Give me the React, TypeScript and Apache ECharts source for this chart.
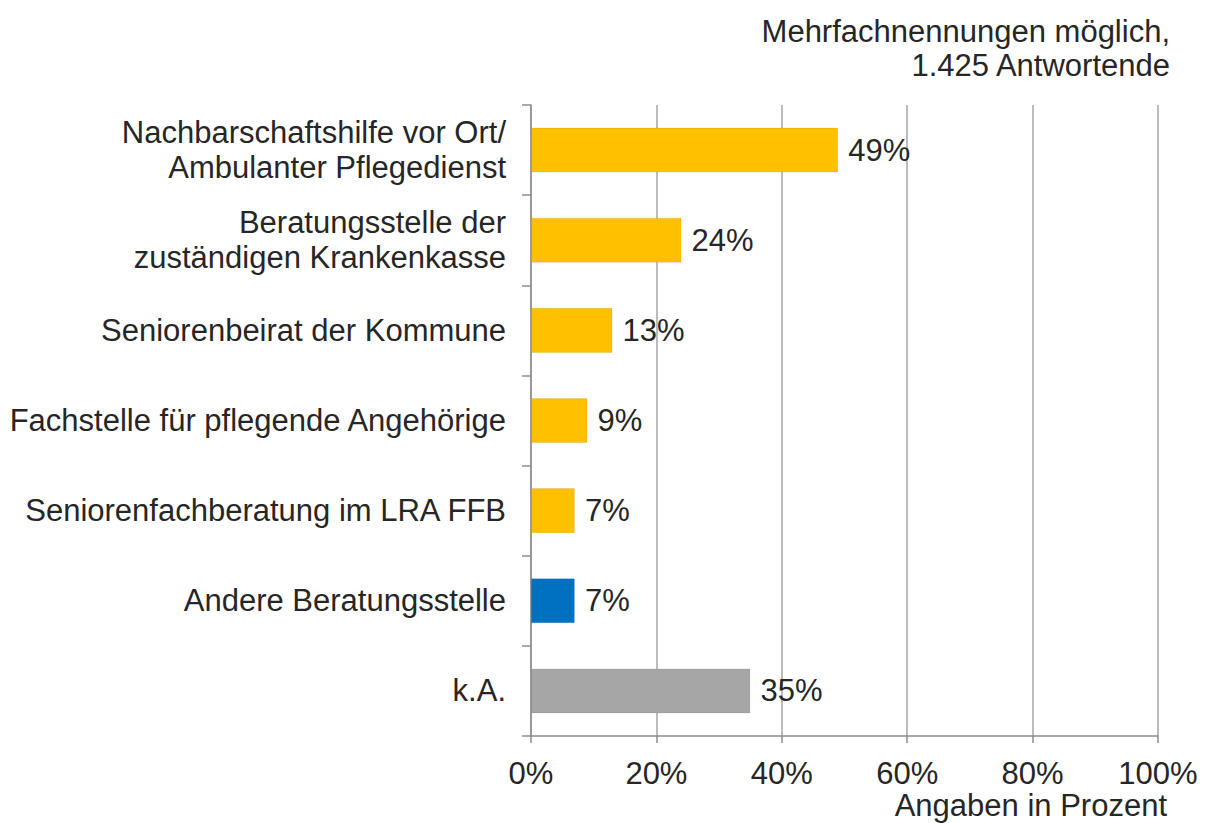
import React, { useEffect, useRef } from "react";
import * as echarts from "echarts";

const categories = [
  "Nachbarschaftshilfe vor Ort/\nAmbulanter Pflegedienst",
  "Beratungsstelle der\nzuständigen Krankenkasse",
  "Seniorenbeirat der Kommune",
  "Fachstelle für pflegende Angehörige",
  "Seniorenfachberatung im LRA FFB",
  "Andere Beratungsstelle",
  "k.A.",
];
const values = [49, 24, 13, 9, 7, 7, 35];
const barColors = ["#FFC000", "#FFC000", "#FFC000", "#FFC000", "#FFC000", "#0070C0", "#A6A6A6"];
const xTicks = [0, 20, 40, 60, 80, 100];
const noteLines = ["Mehrfachnennungen möglich,", "1.425 Antwortende"];
const axisTitle = "Angaben in Prozent";

const FONT = "'Liberation Sans', Arial, sans-serif";
const TXT = "#262626";
const FS = 31;

export default function App() {
  const ref = useRef<HTMLDivElement>(null);
  useEffect(() => {
    if (!ref.current) return;
    const chart = echarts.init(ref.current, null, { renderer: "svg" });
    chart.setOption({
      animation: false,
      backgroundColor: "#ffffff",
      textStyle: { fontFamily: FONT },
      grid: { left: 531, right: 48, top: 105, bottom: 87, containLabel: false },
      xAxis: {
        type: "value",
        min: xTicks[0],
        max: xTicks[xTicks.length - 1],
        interval: xTicks[1] - xTicks[0],
        axisLine: { show: true, lineStyle: { color: "#8c8c8c", width: 1.5 } },
        axisTick: { show: true, length: 7, lineStyle: { color: "#8c8c8c", width: 1.5 } },
        axisLabel: { formatter: "{value}%", fontSize: FS, color: TXT, margin: 22, fontFamily: FONT },
        splitLine: { show: true, lineStyle: { color: "#a6a6a6", width: 1.5 } },
      },
      yAxis: {
        type: "category",
        data: categories,
        inverse: true,
        axisLine: { show: true, lineStyle: { color: "#8c8c8c", width: 1.5 } },
        axisTick: { show: true, length: 9, lineStyle: { color: "#8c8c8c", width: 1.5 } },
        axisLabel: { fontSize: FS, color: TXT, margin: 25, lineHeight: 35, align: "right", fontFamily: FONT },
        splitLine: { show: false },
      },
      series: [
        {
          type: "bar",
          barWidth: "50%",
          data: values.map((v, i) => ({
            value: v,
            itemStyle: { color: barColors[i], borderColor: "rgba(0,0,0,0.08)", borderWidth: 1 },
          })),
          label: {
            show: true,
            position: "right",
            distance: 10,
            formatter: "{c}%",
            fontSize: FS,
            color: TXT,
            fontFamily: FONT,
          },
        },
      ],
      graphic: [
        {
          type: "text",
          right: 36,
          top: 14,
          style: {
            text: noteLines.join("\n"),
            font: `${FS}px ${FONT}`,
            fill: TXT,
            textAlign: "right",
            lineHeight: 34,
          },
        },
        {
          type: "text",
          right: 39,
          top: 790,
          style: {
            text: axisTitle,
            font: `${FS}px ${FONT}`,
            fill: TXT,
            textAlign: "right",
          },
        },
      ],
    });
    return () => chart.dispose();
  }, []);
  return (
    <div
      ref={ref}
      style={{ position: "fixed", left: 0, top: 0, width: 1206, height: 823 }}
    />
  );
}
